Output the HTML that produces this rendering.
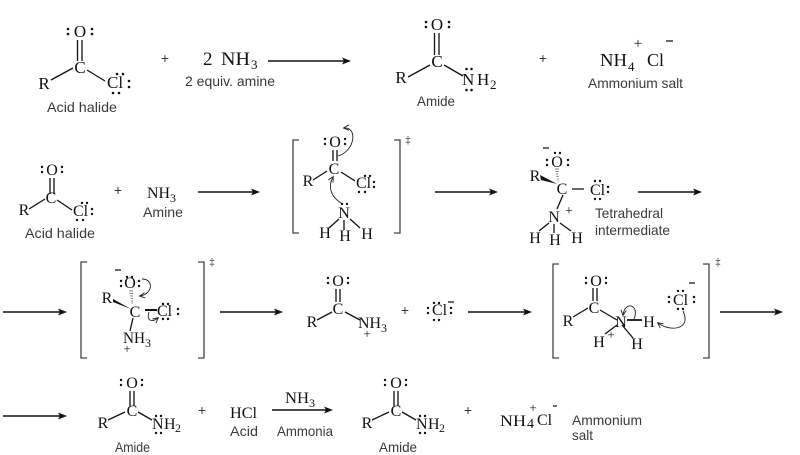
<!DOCTYPE html>
<html><head><meta charset="utf-8"><style>
html,body{margin:0;padding:0;background:#fff;}
svg{display:block}
.s{font-family:"Liberation Serif",serif;fill:#111}
.l{font-family:"Liberation Sans",sans-serif;fill:#3a3a3a;font-size:14px}
</style></head><body>
<svg width="800" height="455" viewBox="0 0 800 455" xmlns="http://www.w3.org/2000/svg">
<defs>
<marker id="ah" markerUnits="userSpaceOnUse" markerWidth="8" markerHeight="8" refX="5" refY="3" orient="auto"><path d="M0,0.3 L5.5,3 L0,5.7" fill="none" stroke="#222" stroke-width="0.9"/></marker>
</defs>

<g stroke="#111" stroke-width="1.3" fill="none">
<path d="M77.5,40V61M82,40V61M51,80L73,68M87,70L105,81"/>
<path d="M434.5,33V55M439,33V55M408,77L430,65M444,65L463,76"/>
<path d="M50,178V194M54,178V194M29,209L45,199M57,200L72,210"/>
<path d="M333,150V161M337,150V161M313,180L327,171M341,172L355,181M339,219L329,228M344,220V230M350,219L360,228"/>
<path d="M572,189H584M563,195L557,209M549,223L539,231M554,224V233M560,223L571,231"/>
<path d="M133,318L130,331"/>
<path d="M145,310H157" stroke-width="2"/>
<path d="M336,289V302M340,289V302M317,320L332,312M345,312L360,320"/>
<path d="M593,288V301M597,288V301M573,317L588,308M600,310L617,320M617,325L605,334M622,325L633,338"/>
<path d="M627,320H642" stroke-width="1.8"/>
<path d="M130,391V406M134,391V406M108,420L125,412M138,412L152,420"/>
<path d="M394,391V406M398,391V406M372,420L389,412M402,412L416,420"/>
<path d="M666,41H673M543,148H549M115,270H121M448,302H454M689,283H695M553,406H557"/>
</g>

<g stroke="#444" stroke-width="1.3" fill="none">
<path d="M299,140H293V233H299M394,140H400V233H394"/>
<path d="M87,262H81V358H87M198,262H204V358H198"/>
<path d="M559,264H553V358H559M703,264H709V358H703"/>
</g>

<g stroke="#111" stroke-width="1.4">
<path d="M268,61H345M198,192H254M435,192H492M638,192H696M3,312H61M220,312H277M468,312H526M720,312H777M3,416H61M272,410H327"/>
</g>
<g fill="#111">
<polygon points="351,61 342,57.5 344,61 342,64.5"/>
<polygon points="260,192 251,188.5 253,192 251,195.5"/>
<polygon points="498,192 489,188.5 491,192 489,195.5"/>
<polygon points="702,192 693,188.5 695,192 693,195.5"/>
<polygon points="67,312 58,308.5 60,312 58,315.5"/>
<polygon points="283,312 274,308.5 276,312 274,315.5"/>
<polygon points="532,312 523,308.5 525,312 523,315.5"/>
<polygon points="783,312 774,308.5 776,312 774,315.5"/>
<polygon points="67,416 58,412.5 60,416 58,419.5"/>
<polygon points="333,410 324,406.5 326,410 324,413.5"/>
<polygon points="540,175 541,180 557,184"/>
<polygon points="113,299 113,302 131,309"/>
</g>
<g stroke="#555" stroke-width="0.8">
<path d="M555,169H559M555.5,171.5H558.5M556,174H558.5M556.5,176.5H558.5M557,179H558.5M557.5,181H558.5"/>
<path d="M129,291H133M129.5,293.5H133M130,296H133M130.5,298.5H133M131,301H133M131.5,303H133"/>
</g>

<g stroke="#222" stroke-width="0.9" fill="none" marker-end="url(#ah)">
<path d="M338,156C355,151 358,127 344,128"/>
<path d="M341,203C330,196 328,186 333,177"/>
<path d="M142,279C154,279 153,294 140,296"/>
<path d="M149,312C146,322 153,322 158,318"/>
<path d="M634,319C640,305 625,300 623,315"/>
<path d="M683,311C692,330 670,332 658,323"/>
</g>

<g fill="#111">
<circle cx="68" cy="29" r="1.3"/><circle cx="68" cy="34" r="1.3"/><circle cx="92" cy="29" r="1.3"/><circle cx="92" cy="34" r="1.3"/>
<circle cx="117" cy="74" r="1.3"/><circle cx="123" cy="74" r="1.3"/><circle cx="129" cy="81" r="1.3"/><circle cx="129" cy="87" r="1.3"/><circle cx="113" cy="93" r="1.3"/><circle cx="119" cy="93" r="1.3"/>
<circle cx="426" cy="22" r="1.3"/><circle cx="426" cy="27" r="1.3"/><circle cx="449" cy="22" r="1.3"/><circle cx="449" cy="27" r="1.3"/>
<circle cx="466.5" cy="69" r="1.3"/><circle cx="471.5" cy="69" r="1.3"/><circle cx="466.5" cy="90" r="1.3"/><circle cx="471.5" cy="90" r="1.3"/>
<circle cx="42" cy="167" r="1.2"/><circle cx="42" cy="172" r="1.2"/><circle cx="62" cy="167" r="1.2"/><circle cx="62" cy="172" r="1.2"/>
<circle cx="82" cy="203" r="1.2"/><circle cx="87" cy="203" r="1.2"/><circle cx="92" cy="209" r="1.2"/><circle cx="92" cy="214" r="1.2"/><circle cx="77" cy="220" r="1.2"/><circle cx="83" cy="220" r="1.2"/>
<circle cx="325" cy="139" r="1.2"/><circle cx="325" cy="144" r="1.2"/><circle cx="345" cy="139" r="1.2"/><circle cx="345" cy="144" r="1.2"/>
<circle cx="365" cy="176" r="1.2"/><circle cx="370" cy="176" r="1.2"/><circle cx="374" cy="182" r="1.2"/><circle cx="374" cy="187" r="1.2"/><circle cx="359" cy="192" r="1.2"/><circle cx="365" cy="192" r="1.2"/>
<circle cx="342" cy="204" r="1.2"/><circle cx="347" cy="204" r="1.2"/>
<circle cx="555" cy="153" r="1.2"/><circle cx="560" cy="153" r="1.2"/><circle cx="547" cy="160" r="1.2"/><circle cx="547" cy="165" r="1.2"/><circle cx="568" cy="160" r="1.2"/><circle cx="568" cy="165" r="1.2"/>
<circle cx="595" cy="181" r="1.2"/><circle cx="600" cy="181" r="1.2"/><circle cx="608" cy="187" r="1.2"/><circle cx="608" cy="192" r="1.2"/><circle cx="595" cy="199" r="1.2"/><circle cx="600" cy="199" r="1.2"/>
<circle cx="127" cy="277" r="1.2"/><circle cx="132" cy="277" r="1.2"/><circle cx="121" cy="281" r="1.2"/><circle cx="121" cy="286" r="1.2"/><circle cx="139" cy="281" r="1.2"/><circle cx="139" cy="286" r="1.2"/>
<circle cx="163" cy="304" r="1.2"/><circle cx="168" cy="304" r="1.2"/><circle cx="178" cy="309" r="1.2"/><circle cx="178" cy="314" r="1.2"/><circle cx="163" cy="319" r="1.2"/><circle cx="168" cy="319" r="1.2"/>
<circle cx="328" cy="278" r="1.2"/><circle cx="328" cy="283" r="1.2"/><circle cx="348" cy="278" r="1.2"/><circle cx="348" cy="283" r="1.2"/>
<circle cx="434" cy="303" r="1.2"/><circle cx="439" cy="303" r="1.2"/><circle cx="428" cy="308" r="1.2"/><circle cx="428" cy="313" r="1.2"/><circle cx="451" cy="308" r="1.2"/><circle cx="451" cy="313" r="1.2"/><circle cx="434" cy="320" r="1.2"/><circle cx="439" cy="320" r="1.2"/>
<circle cx="586" cy="278" r="1.2"/><circle cx="586" cy="283" r="1.2"/><circle cx="606" cy="278" r="1.2"/><circle cx="606" cy="283" r="1.2"/>
<circle cx="678" cy="291" r="1.2"/><circle cx="683" cy="291" r="1.2"/><circle cx="669" cy="297" r="1.2"/><circle cx="669" cy="302" r="1.2"/><circle cx="694" cy="297" r="1.2"/><circle cx="694" cy="302" r="1.2"/><circle cx="678" cy="309" r="1.2"/><circle cx="683" cy="309" r="1.2"/>
<circle cx="121" cy="380" r="1.2"/><circle cx="121" cy="385" r="1.2"/><circle cx="142" cy="380" r="1.2"/><circle cx="142" cy="385" r="1.2"/>
<circle cx="156" cy="416" r="1.2"/><circle cx="161" cy="416" r="1.2"/><circle cx="156" cy="433" r="1.2"/><circle cx="161" cy="433" r="1.2"/>
<circle cx="385" cy="380" r="1.2"/><circle cx="385" cy="385" r="1.2"/><circle cx="406" cy="380" r="1.2"/><circle cx="406" cy="385" r="1.2"/>
<circle cx="420" cy="416" r="1.2"/><circle cx="425" cy="416" r="1.2"/><circle cx="420" cy="433" r="1.2"/><circle cx="425" cy="433" r="1.2"/>
</g>

<!-- Row 1 -->
<g class="s" font-size="17">
<text x="80" y="37" text-anchor="middle">O</text>
<text x="80" y="73" text-anchor="middle">C</text>
<text x="44" y="89" text-anchor="middle">R</text>
<text x="107" y="88">Cl</text>
<text x="437" y="30" text-anchor="middle">O</text>
<text x="437" y="67" text-anchor="middle">C</text>
<text x="401" y="83" text-anchor="middle">R</text>
<text x="462" y="85">N</text>
<text x="477" y="85">H</text>
<text x="490" y="89" font-size="13">2</text>
</g>
<text class="s" x="203" y="65" font-size="19">2</text>
<text class="s" x="221" y="65" font-size="19" textLength="29" lengthAdjust="spacingAndGlyphs">NH</text>
<text class="s" x="251" y="69" font-size="13">3</text>
<text class="s" x="600" y="66" font-size="18" textLength="27" lengthAdjust="spacingAndGlyphs">NH</text>
<text class="s" x="628" y="71" font-size="13">4</text>
<text class="s" x="638" y="48" font-size="15" text-anchor="middle">+</text>
<text class="s" x="647" y="66" font-size="18">Cl</text>
<text class="l" x="165" y="63" font-size="16" text-anchor="middle">+</text>
<text class="l" x="543" y="63" font-size="16" text-anchor="middle">+</text>
<text class="l" x="47" y="112" textLength="70" lengthAdjust="spacingAndGlyphs">Acid halide</text>
<text class="l" x="185" y="86" textLength="90" lengthAdjust="spacingAndGlyphs">2 equiv. amine</text>
<text class="l" x="417" y="106" textLength="38" lengthAdjust="spacingAndGlyphs">Amide</text>
<text class="l" x="588" y="88" textLength="95" lengthAdjust="spacingAndGlyphs">Ammonium salt</text>

<!-- Row 2 -->
<g class="s" font-size="16">
<text x="52" y="175" text-anchor="middle">O</text>
<text x="51" y="203" text-anchor="middle">C</text>
<text x="24" y="215" text-anchor="middle">R</text>
<text x="73" y="216">Cl</text>
<text x="147" y="198" textLength="23" lengthAdjust="spacingAndGlyphs">NH</text>
<text x="170" y="202" font-size="12">3</text>
<text x="335" y="147" text-anchor="middle">O</text>
<text x="334" y="174" text-anchor="middle">C</text>
<text x="308" y="186" text-anchor="middle">R</text>
<text x="356" y="188">Cl</text>
<text x="344" y="218" text-anchor="middle">N</text>
<text x="325" y="238" text-anchor="middle">H</text>
<text x="345" y="241" text-anchor="middle">H</text>
<text x="367" y="239" text-anchor="middle">H</text>
<text x="557" y="167" text-anchor="middle">O</text>
<text x="562" y="194" text-anchor="middle">C</text>
<text x="535" y="181" text-anchor="middle">R</text>
<text x="590" y="195">Cl</text>
<text x="554" y="222" text-anchor="middle">N</text>
<text x="569" y="215" font-size="14" text-anchor="middle">+</text>
<text x="535" y="243" text-anchor="middle">H</text>
<text x="555" y="245" text-anchor="middle">H</text>
<text x="577" y="243" text-anchor="middle">H</text>
</g>
<text class="s" x="408" y="143" font-size="10" text-anchor="middle">‡</text>
<text class="l" x="118" y="195" font-size="15" text-anchor="middle">+</text>
<text class="l" x="25" y="238" textLength="70" lengthAdjust="spacingAndGlyphs">Acid halide</text>
<text class="l" x="143" y="217" textLength="40" lengthAdjust="spacingAndGlyphs">Amine</text>
<text class="l" x="595" y="218" textLength="68" lengthAdjust="spacingAndGlyphs">Tetrahedral</text>
<text class="l" x="595" y="235" textLength="75" lengthAdjust="spacingAndGlyphs">intermediate</text>

<!-- Row 3 -->
<g class="s" font-size="16">
<text x="130" y="288" text-anchor="middle">O</text>
<text x="135" y="317" text-anchor="middle">C</text>
<text x="107" y="303" text-anchor="middle">R</text>
<text x="157" y="316">Cl</text>
<text x="123" y="343" textLength="22" lengthAdjust="spacingAndGlyphs">NH</text>
<text x="145" y="347" font-size="12">3</text>
<text x="127" y="353" font-size="13" text-anchor="middle">+</text>
<text x="338" y="286" text-anchor="middle">O</text>
<text x="338" y="314" text-anchor="middle">C</text>
<text x="312" y="327" text-anchor="middle">R</text>
<text x="358" y="328" textLength="23" lengthAdjust="spacingAndGlyphs">NH</text>
<text x="381" y="332" font-size="12">3</text>
<text x="367" y="338" font-size="13" text-anchor="middle">+</text>
<text x="432" y="315">Cl</text>
<text x="596" y="286" text-anchor="middle">O</text>
<text x="594" y="313" text-anchor="middle">C</text>
<text x="568" y="326" text-anchor="middle">R</text>
<text x="621" y="327" text-anchor="middle">N</text>
<text x="649" y="327" text-anchor="middle">H</text>
<text x="599" y="347" text-anchor="middle">H</text>
<text x="637" y="349" text-anchor="middle">H</text>
<text x="611" y="339" font-size="13" text-anchor="middle">+</text>
<text x="673" y="305">Cl</text>
</g>
<text class="s" x="212" y="265" font-size="10" text-anchor="middle">‡</text>
<text class="s" x="718" y="265" font-size="10" text-anchor="middle">‡</text>
<text class="l" x="405" y="315" font-size="14" text-anchor="middle">+</text>

<!-- Row 4 -->
<g class="s" font-size="16">
<text x="132" y="388" text-anchor="middle">O</text>
<text x="132" y="416" text-anchor="middle">C</text>
<text x="103" y="428" text-anchor="middle">R</text>
<text x="152" y="429">N</text>
<text x="164" y="429">H</text>
<text x="175" y="432" font-size="12">2</text>
<text x="230" y="418" textLength="27" lengthAdjust="spacingAndGlyphs">HCl</text>
<text x="285" y="403" textLength="24" lengthAdjust="spacingAndGlyphs">NH</text>
<text x="309" y="407" font-size="12">3</text>
<text x="396" y="388" text-anchor="middle">O</text>
<text x="396" y="416" text-anchor="middle">C</text>
<text x="367" y="428" text-anchor="middle">R</text>
<text x="416" y="429">N</text>
<text x="428" y="429">H</text>
<text x="439" y="432" font-size="12">2</text>
<text x="500" y="426" textLength="26" lengthAdjust="spacingAndGlyphs">NH</text>
<text x="527" y="428" font-size="14">4</text>
<text x="533" y="412" font-size="13" text-anchor="middle">+</text>
<text x="537" y="425">Cl</text>
</g>
<text class="l" x="202" y="415" font-size="14" text-anchor="middle">+</text>
<text class="l" x="468" y="415" font-size="14" text-anchor="middle">+</text>
<text class="l" x="115" y="452" textLength="35" lengthAdjust="spacingAndGlyphs">Amide</text>
<text class="l" x="230" y="436" textLength="28" lengthAdjust="spacingAndGlyphs">Acid</text>
<text class="l" x="277" y="436" textLength="56" lengthAdjust="spacingAndGlyphs">Ammonia</text>
<text class="l" x="379" y="452" textLength="38" lengthAdjust="spacingAndGlyphs">Amide</text>
<text class="l" x="572" y="425" textLength="70" lengthAdjust="spacingAndGlyphs">Ammonium</text>
<text class="l" x="572" y="440" textLength="21" lengthAdjust="spacingAndGlyphs">salt</text>
</svg>
</body></html>
